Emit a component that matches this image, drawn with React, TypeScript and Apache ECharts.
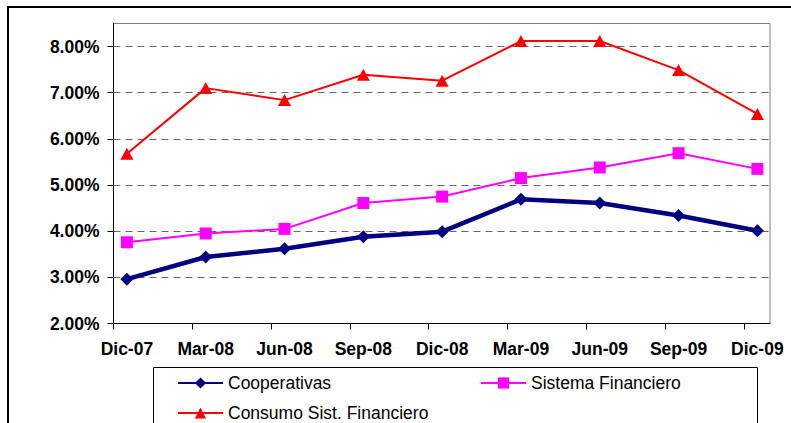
import React, { useEffect, useRef } from "react";
import * as echarts from "echarts";

const CATEGORIES = ["Dic-07", "Mar-08", "Jun-08", "Sep-08", "Dic-08", "Mar-09", "Jun-09", "Sep-09", "Dic-09"];
const COOPERATIVAS = [2.96, 3.44, 3.62, 3.88, 3.99, 4.69, 4.61, 4.34, 4.01];
const SISTEMA_FINANCIERO = [3.76, 3.95, 4.05, 4.61, 4.75, 5.15, 5.38, 5.69, 5.35];
const CONSUMO = [5.68, 7.1, 6.84, 7.39, 7.26, 8.12, 8.12, 7.49, 6.54];
const Y_TICKS = [2, 3, 4, 5, 6, 7, 8];

const FONT = "'Liberation Sans', Arial, sans-serif";
const X_OFFSET = 0.17;

export default function App() {
  const ref = useRef<HTMLDivElement>(null);
  useEffect(() => {
    if (!ref.current) return;
    const chart = echarts.init(ref.current, null, { renderer: "svg" });
    const toPts = (arr: number[]) => arr.map((v, i) => [i, v]);
    const legendBase = {
      orient: "horizontal" as const,
      itemWidth: 45,
      itemHeight: 14,
      itemGap: 10,
      padding: 0,
      selectedMode: false,
      textStyle: { fontSize: 17.5, fontFamily: FONT, color: "#000" },
    };
    chart.setOption({
      animation: false,
      backgroundColor: "#fff",
      grid: {
        left: 113.5,
        top: 23.5,
        right: 21,
        bottom: 99.5,
        show: true,
        borderColor: "#808080",
        borderWidth: 1,
        containLabel: false,
      },
      xAxis: {
        type: "value",
        min: -X_OFFSET,
        max: CATEGORIES.length - 1 + 0.16,
        axisLine: { show: true, onZero: false, lineStyle: { color: "#000", width: 1 } },
        axisTick: {
          show: true,
          length: 6,
          lineStyle: { color: "#000" },
          customValues: CATEGORIES.map((_, i) => i - X_OFFSET),
        },
        axisLabel: {
          customValues: CATEGORIES.map((_, i) => i),
          formatter: (v: number) => CATEGORIES[Math.round(v)] ?? "",
          fontSize: 17.5,
          fontWeight: "bold",
          fontFamily: FONT,
          color: "#000",
          margin: 16,
        },
        splitLine: { show: false },
      },
      yAxis: {
        type: "value",
        min: 2,
        max: 8.5,
        interval: 1,
        axisLine: { show: true, onZero: false, lineStyle: { color: "#000", width: 1 } },
        axisTick: { show: true, length: 6, lineStyle: { color: "#000" }, customValues: Y_TICKS },
        axisLabel: {
          customValues: Y_TICKS,
          formatter: (v: number) => v.toFixed(2) + "%",
          fontSize: 17.5,
          fontWeight: "bold",
          fontFamily: FONT,
          color: "#000",
          margin: 14,
        },
        splitLine: { show: true, lineStyle: { color: "#666", width: 1, type: [7, 5] } },
      },
      legend: [
        { ...legendBase, data: ["Cooperativas"], left: 177, top: 374 },
        { ...legendBase, data: ["Sistema Financiero"], left: 480, top: 374 },
        { ...legendBase, data: ["Consumo Sist. Financiero"], left: 177, top: 404 },
      ],
      graphic: [
        {
          type: "rect",
          shape: { x: 8, y: 7, width: 900, height: 600 },
          style: { fill: "none", stroke: "#000", lineWidth: 2 },
          silent: true,
          z: -1,
        },
        {
          type: "rect",
          shape: { x: 153.5, y: 367.5, width: 604, height: 200 },
          style: { fill: "#fff", stroke: "#000", lineWidth: 1 },
          silent: true,
          z: -1,
        },
      ],
      series: [
        {
          name: "Consumo Sist. Financiero",
          type: "line",
          data: toPts(CONSUMO),
          symbol: "triangle",
          symbolSize: [13, 12],
          lineStyle: { color: "#ff0000", width: 2 },
          itemStyle: { color: "#ff0000" },
        },
        {
          name: "Sistema Financiero",
          type: "line",
          data: toPts(SISTEMA_FINANCIERO),
          symbol: "rect",
          symbolSize: 12,
          lineStyle: { color: "#ff00ff", width: 2 },
          itemStyle: { color: "#ff00ff" },
        },
        {
          name: "Cooperativas",
          type: "line",
          data: toPts(COOPERATIVAS),
          symbol: "diamond",
          symbolSize: 13,
          lineStyle: { color: "#000080", width: 4.5 },
          itemStyle: { color: "#000080" },
        },
      ],
    });
    return () => chart.dispose();
  }, []);
  return (
    <div
      ref={ref}
      style={{ position: "absolute", left: 0, top: 0, width: 791, height: 423 }}
    />
  );
}
